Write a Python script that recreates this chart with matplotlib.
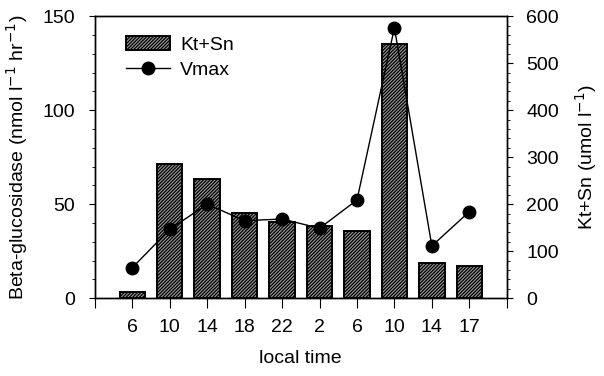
import matplotlib.pyplot as plt
import numpy as np
from matplotlib.ticker import MultipleLocator

plt.rcParams['font.family'] = ['Liberation Sans', 'DejaVu Sans']
plt.rcParams['hatch.linewidth'] = 0.9

# data
local_time = ['6', '10', '14', '18', '22', '2', '6', '10', '14', '17']
kt_sn = [14, 285, 253, 182, 163, 154, 142, 541, 74, 69]          # umol l-1
vmax = [16.2, 36.6, 50.0, 41.2, 42.1, 37.2, 52.2, 143.8, 27.8, 46.0]  # nmol l-1 hr-1

x = np.arange(len(local_time))
fs = 14

fig = plt.figure(figsize=(6.04, 3.76), dpi=100)
ax = fig.add_axes([0.157, 0.207, 0.682, 0.750])

# bars on the primary axes (scale shown on the right)
bars = ax.bar(x, kt_sn, width=0.68, facecolor='#9a9a9a', edgecolor='black',
              hatch='//////////', linewidth=1.4, label='Kt+Sn', zorder=2)
ax.set_ylim(0, 600)
ax.set_xlim(-1, 10)
ax.yaxis.set_major_locator(MultipleLocator(100))
ax.yaxis.set_minor_locator(MultipleLocator(20))

# Vmax on the twin axes (scale shown on the left)
ax2 = ax.twinx()
line, = ax2.plot(x, vmax, color='black', lw=1.0, marker='o', markersize=9,
                 label='Vmax', zorder=3)
ax2.set_ylim(0, 150)
ax2.yaxis.set_major_locator(MultipleLocator(50))
ax2.yaxis.set_minor_locator(MultipleLocator(10))

# swap sides: twinx put the primary on the left
ax.yaxis.tick_right()
ax.yaxis.set_label_position('right')
ax2.yaxis.tick_left()
ax2.yaxis.set_label_position('left')

ax.set_ylabel('Kt+Sn (umol l$^{-1}$)', fontsize=fs, labelpad=10)
ax2.set_ylabel('Beta-glucosidase (nmol l$^{-1}$ hr$^{-1}$)', fontsize=fs, labelpad=9)

ax.set_xticks(np.arange(-1, 11))
ax.set_xticklabels([''] + local_time + [''])
ax.set_xlabel('local time', fontsize=fs, labelpad=10)

for a in (ax, ax2):
    a.tick_params(which='major', direction='out', length=4, width=0.8,
                  labelsize=fs, pad=10)
    a.tick_params(which='minor', direction='out', length=2.5, width=0.6)
    for s in a.spines.values():
        s.set_linewidth(1.0)
ax.tick_params(axis='x', length=7, pad=8)

ax2.legend([bars, line], ['Kt+Sn', 'Vmax'], loc='upper left',
           bbox_to_anchor=(0.075, 0.93), frameon=False, fontsize=fs,
           handlelength=2.3, handleheight=0.75, handletextpad=0.5,
           borderpad=0, borderaxespad=0, labelspacing=0.35)

fig.savefig('out.png', dpi=100)
